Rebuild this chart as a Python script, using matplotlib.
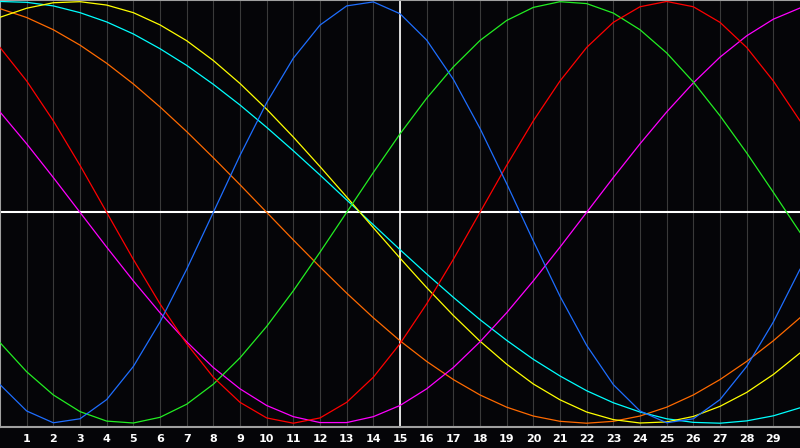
import numpy as np
import matplotlib
matplotlib.use("Agg")
import matplotlib.pyplot as plt

days = list(range(0, 31))
day_labels = [str(d) for d in range(1, 30)]

# valores (de -1 a 1)
blue = [-0.817, -0.942, -0.998, -0.979, -0.888, -0.731, -0.520, -0.270, 0.0, 0.270,
        0.520, 0.731, 0.888, 0.979, 0.998, 0.942, 0.817, 0.631, 0.398, 0.136,
        -0.136, -0.398, -0.631, -0.817, -0.942, -0.998, -0.979, -0.888, -0.731, -0.520,
        -0.270]
red = [0.782, 0.623, 0.434, 0.223, 0.0, -0.223, -0.434, -0.623, -0.782, -0.901,
       -0.975, -1.0, -0.975, -0.901, -0.782, -0.623, -0.434, -0.223, 0.0, 0.223,
       0.434, 0.623, 0.782, 0.901, 0.975, 1.0, 0.975, 0.901, 0.782, 0.623,
       0.434]
green = [-0.618, -0.756, -0.866, -0.945, -0.990, -0.999, -0.972, -0.910, -0.815, -0.690,
         -0.541, -0.372, -0.189, 0.0, 0.189, 0.372, 0.541, 0.690, 0.815, 0.910,
         0.972, 0.999, 0.990, 0.945, 0.866, 0.756, 0.618, 0.458, 0.282, 0.095,
         -0.095]
magenta = [0.476, 0.325, 0.165, 0.0, -0.165, -0.325, -0.476, -0.614, -0.736, -0.837,
           -0.916, -0.969, -0.997, -0.997, -0.969, -0.916, -0.837, -0.736, -0.614, -0.476,
           -0.325, -0.165, 0.0, 0.165, 0.325, 0.476, 0.614, 0.736, 0.837, 0.916,
           0.969]
yellow = [0.925, 0.968, 0.994, 0.999, 0.983, 0.947, 0.889, 0.814, 0.720, 0.611,
          0.489, 0.357, 0.217, 0.073, -0.073, -0.217, -0.357, -0.489, -0.611, -0.720,
          -0.814, -0.889, -0.947, -0.983, -0.999, -0.994, -0.968, -0.920, -0.854, -0.769,
          -0.667]
orange = [0.966, 0.924, 0.866, 0.793, 0.707, 0.609, 0.500, 0.383, 0.259, 0.131,
          0.0, -0.131, -0.259, -0.383, -0.500, -0.609, -0.707, -0.793, -0.866, -0.924,
          -0.966, -0.991, -1.0, -0.991, -0.966, -0.924, -0.866, -0.793, -0.707, -0.609,
          -0.500]
cyan = [1.0, 0.996, 0.979, 0.947, 0.903, 0.846, 0.776, 0.697, 0.607, 0.509,
        0.403, 0.292, 0.177, 0.059, -0.059, -0.177, -0.292, -0.403, -0.509, -0.607,
        -0.697, -0.776, -0.846, -0.903, -0.947, -0.979, -0.996, -1.0, -0.989, -0.965,
        -0.927]

series = [
    (orange, "#ff6a00"),
    (cyan, "#00ffff"),
    (yellow, "#ffff00"),
    (magenta, "#ff00ff"),
    (green, "#22ee22"),
    (red, "#ff0000"),
    (blue, "#1e6eff"),
]

fig = plt.figure(figsize=(8, 4.48), dpi=100, facecolor="#050508")
ax = fig.add_axes([0, 21 / 448, 1, 427 / 448])
ax.set_facecolor("#050508")
ax.set_xlim(0, 30)
ax.set_ylim(-1.018, 1.007)

for d in range(1, 30):
    ax.axvline(d, color="#3a3a3a", lw=0.8, zorder=1)

for vals, col in series:
    ax.plot(days, vals, color=col, lw=0.9, zorder=3)

ax.axhline(0, color="white", lw=1.5, zorder=2)
ax.axvline(15, color="white", lw=1.2, zorder=2)

for s in ["left", "top", "bottom"]:
    ax.spines[s].set_color("#a0a0a0")
    ax.spines[s].set_linewidth(1.5)
ax.spines["right"].set_visible(False)

ax.set_xticks(range(1, 30))
ax.set_xticklabels(day_labels)
ax.tick_params(axis="x", length=0, pad=5, colors="white", labelsize=8)
for t in ax.get_xticklabels():
    t.set_fontweight("bold")
ax.set_yticks([])

fig.savefig("out.png", dpi=100, facecolor=fig.get_facecolor())
